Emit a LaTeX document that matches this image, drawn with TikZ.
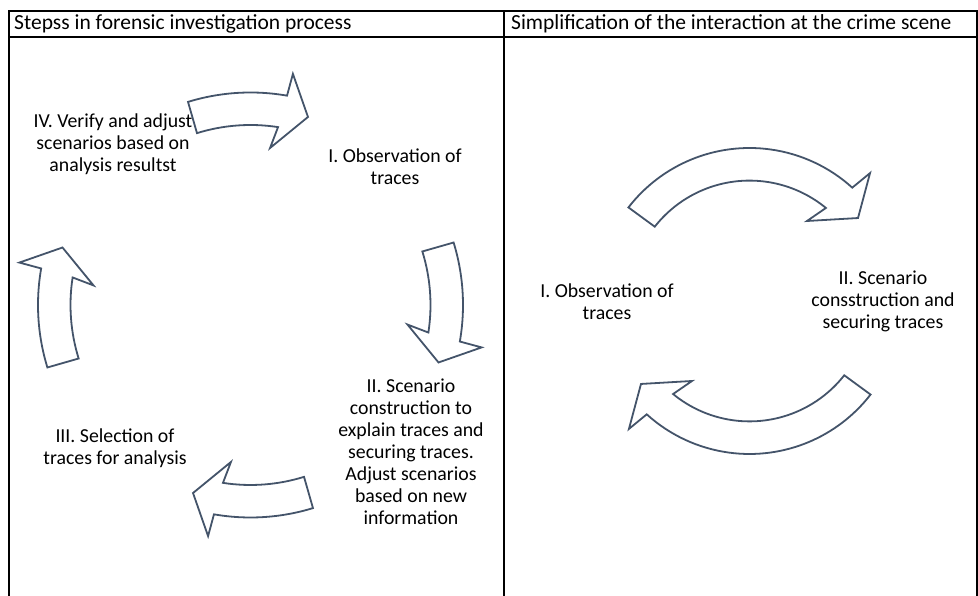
\documentclass[tikz,border=0pt]{standalone}
\usepackage{fontspec}
\setmainfont{Carlito}
\definecolor{arrowslate}{HTML}{44546A}
\tikzset{
	step_text/.style = {
		align=center,
		inner sep=0pt,
		font=\fontsize{19.8}{22}\selectfont
	},
	head_text/.style = {
		align=left,
		inner sep=0pt,
		anchor=west,
		font=\fontsize{21.5}{24}\selectfont
	},
	table_line/.style = {
		black,
		line width=2pt
	},
	cycle_arrow/.style = {
		draw=arrowslate,
		fill=white,
		line width=1.8pt,
		line join=miter
	},
}
\begin{document}
\begin{tikzpicture}[x=1pt, y=1pt]
\useasboundingbox (0,0) rectangle (978,596);
% table
\draw[table_line] (9,0) -- (9,585) -- (977,585) -- (977,0);
\draw[table_line] (9,559) -- (977,559);
\draw[table_line] (504,0) -- (504,585);
\node [head_text] (head_steps) at (14,572) {Stepss in forensic investigation process};
\node [head_text] (head_simple) at (511,572) {Simplification of the interaction at the crime scene};
% four steps
\foreach \r in {0,-90,-180,-270}
	\draw[cycle_arrow, shift={(250.5,291)}, rotate=\r]
		(107.1:212.5) arc[start angle=107.1, end angle=80.1, radius=212.5]
		-- (79.6:235) -- (73:196.6) -- (82.9:158.2) -- (81.2:180)
		arc[start angle=81.2, end angle=107.3, radius=180] -- cycle;
\node [step_text] (obs) at (395,429) {I. Observation of\\traces};
\node [step_text] (scen) at (411,144) {II. Scenario\\construction to\\explain traces and\\securing traces.\\Adjust scenarios\\based on new\\information};
\node [step_text] (sel) at (115,148) {III. Selection of\\traces for analysis};
\node [step_text] (verify) at (113,452) {IV. Verify and adjust\\scenarios based on\\analysis resultst};
% crime scene
\foreach \r in {0,180}
	\draw[cycle_arrow, shift={(749.5,295)}, rotate=\r]
		(142.3:153) arc[start angle=142.3, end angle=47.8, radius=153]
		-- (46.7:175.8) -- (37.4:136.6) -- (54.3:98.5) -- (50.6:120.4)
		arc[start angle=50.6, end angle=141.9, radius=120.4] -- cycle;
\node [step_text] (obs_scene) at (607,294) {I. Observation of\\traces};
\node [step_text] (scen_scene) at (883,295) {II. Scenario\\consstruction and\\securing traces};
\end{tikzpicture}
\end{document}
